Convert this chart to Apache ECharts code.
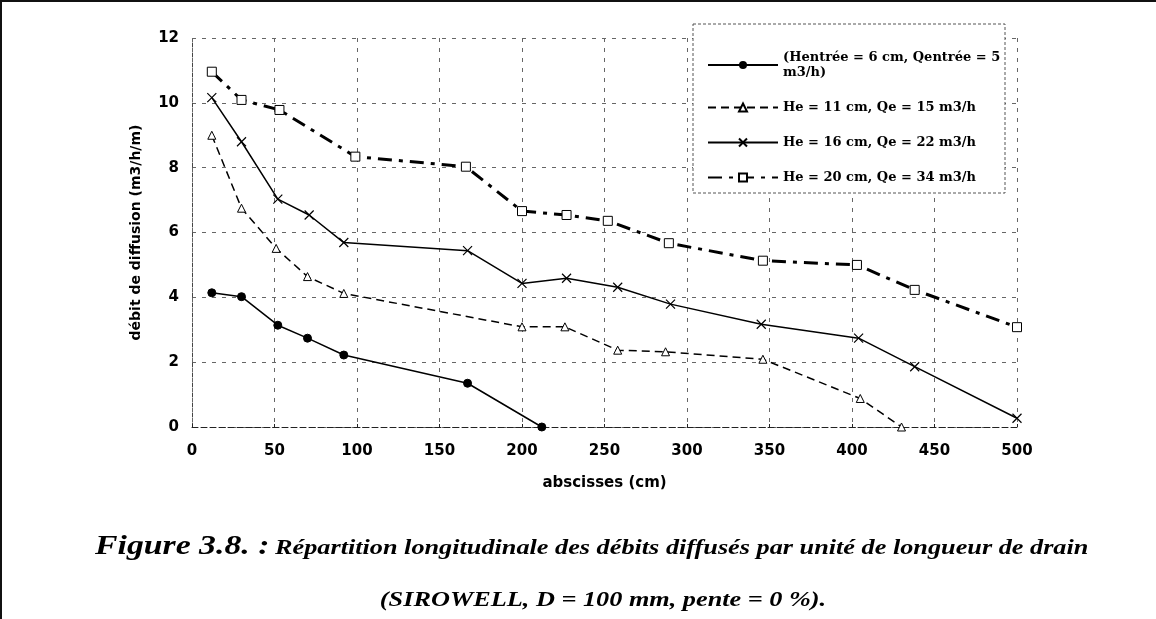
<!DOCTYPE html>
<html>
<head>
    <meta charset="utf-8">
    <title>Figure 3.8</title>
    <script src="https://cdn.jsdelivr.net/npm/echarts@6/dist/echarts.min.js"></script>
    <style>
        html, body { margin: 0; padding: 0; background: #fff; }
        #wrap { position: relative; width: 1156px; height: 619px; }
        #main { width: 1156px; height: 619px; }
        #frame { position: absolute; left: 0; top: 0; width: 1156px; height: 619px; box-sizing: border-box;
                 border-top: 2px solid #111; border-left: 2px solid #111; pointer-events: none; }
    </style>
</head>
<body>
<div id="wrap">
    <div id="main"></div>
    <div id="frame"></div>
</div>
<script type="text/javascript">
    // abscisses (cm) and débit de diffusion (m3/h/m) for each test
    var x6 = [12, 30, 52, 70, 92, 167, 212];
    var y6 = [4.14, 4.02, 3.14, 2.74, 2.22, 1.35, 0];

    var x11 = [12, 30, 51, 70, 92, 200, 226, 258, 287, 346, 405, 430];
    var y11 = [9.0, 6.75, 5.51, 4.64, 4.12, 3.09, 3.09, 2.37, 2.32, 2.09, 0.88, 0];

    var x16 = [12, 30, 52, 71, 92, 167, 200, 227, 258, 290, 345, 404, 438, 500];
    var y16 = [10.16, 8.8, 7.03, 6.54, 5.69, 5.44, 4.43, 4.59, 4.31, 3.79, 3.17, 2.74, 1.86, 0.27];

    var x20 = [12, 30, 53, 99, 166, 200, 227, 252, 289, 346, 403, 438, 500];
    var y20 = [10.96, 10.09, 9.78, 8.34, 8.03, 6.66, 6.54, 6.36, 5.67, 5.13, 5.0, 4.23, 3.08];

    var names = [
        '(Hentrée = 6 cm, Qentrée = 5 m3/h)',
        'He = 11 cm, Qe = 15 m3/h',
        'He = 16 cm, Qe = 22 m3/h',
        'He = 20 cm, Qe = 34 m3/h'
    ];

    var figLabel = 'Figure 3.8. :';
    var figText = 'Répartition longitudinale des débits diffusés par unité de longueur de drain';
    var figText2 = '(SIROWELL, D = 100 mm, pente = 0 %).';

    function pairs(xs, ys) {
        var out = [];
        for (var i = 0; i < xs.length; i++) {
            out.push([xs[i], ys[i]]);
        }
        return out;
    }

    // the scanned caption is stretched sideways, so the text is widened a little
    function caption(str, x, y, size, align) {
        return {
            type: 'text',
            x: x,
            y: y,
            scaleX: 1.25,
            style: {
                text: str,
                font: 'italic bold ' + size + 'px "Liberation Serif"',
                fill: '#000',
                textAlign: align, align: align,
                textVerticalAlign: 'middle', verticalAlign: 'middle'
            }
        };
    }

    var myChart = echarts.init(document.getElementById('main'));

    var gridLine = { show: true, lineStyle: { color: '#666', width: 1, type: [4, 6] } };
    var axisFont = { color: '#000', fontFamily: 'DejaVu Sans', fontWeight: 'bold', fontSize: 15 };

    option = {
        backgroundColor: '#fff',
        animation: false,
        grid: { left: 192, right: 139, top: 38, bottom: 192 },
        graphic: [
            {
                type: 'rect',
                z: 3,
                shape: { x: 693, y: 24, width: 312, height: 169 },
                style: { fill: '#fff', stroke: '#555', lineWidth: 1, lineDash: [3, 2] }
            },
            caption(figLabel, 95, 547, 27, 'left'),
            caption(figText, 275, 549, 21, 'left'),
            caption(figText2, 603, 601, 21, 'center')
        ],
        legend: {
            orient: 'vertical',
            left: 702,
            top: 45,
            itemWidth: 70,
            itemHeight: 10,
            itemGap: 20,
            z: 5,
            formatter: function (name) {
                if (name === names[0]) {
                    return '(Hentrée = 6 cm, Qentrée = 5\nm3/h)';
                }
                return name;
            },
            textStyle: { fontFamily: 'DejaVu Serif', fontWeight: 'bold', fontSize: 13, color: '#000', lineHeight: 15 },
            data: names
        },
        xAxis: {
            type: 'value',
            min: 0,
            max: 500,
            interval: 50,
            name: 'abscisses (cm)',
            nameLocation: 'middle',
            nameGap: 49,
            nameTextStyle: { color: '#000', fontFamily: 'DejaVu Sans', fontWeight: 'bold', fontSize: 15 },
            axisLine: { show: true, lineStyle: { color: '#222', width: 1, type: [6, 3] } },
            axisTick: { show: true, length: 3, inside: true, lineStyle: { color: '#222' } },
            axisLabel: Object.assign({ margin: 17 }, axisFont),
            splitLine: gridLine
        },
        yAxis: {
            type: 'value',
            min: 0,
            max: 12,
            interval: 2,
            name: 'débit de diffusion (m3/h/m)',
            nameLocation: 'middle',
            nameGap: 49,
            nameTextStyle: { color: '#000', fontFamily: 'DejaVu Sans', fontWeight: 'bold', fontSize: 14 },
            axisLine: { show: true, lineStyle: { color: '#444', width: 1, type: [4, 6] } },
            axisTick: { show: false },
            axisLabel: Object.assign({ margin: 13 }, axisFont),
            splitLine: gridLine
        },
        series: [
            {
                name: names[0],
                type: 'line',
                data: pairs(x6, y6),
                symbol: 'circle',
                symbolSize: 8,
                showAllSymbol: true,
                lineStyle: { color: '#000', width: 1.5, type: 'solid' },
                itemStyle: { color: '#000', borderColor: '#000' }
            },
            {
                name: names[1],
                type: 'line',
                data: pairs(x11, y11),
                symbol: 'triangle',
                symbolSize: 8,
                showAllSymbol: true,
                lineStyle: { color: '#000', width: 1.5, type: [8, 5] },
                itemStyle: { color: '#fff', borderColor: '#000', borderWidth: 1 }
            },
            {
                name: names[2],
                type: 'line',
                data: pairs(x16, y16),
                symbol: 'path://M0 0L10 10M10 0L0 10',
                symbolSize: 9,
                showAllSymbol: true,
                lineStyle: { color: '#000', width: 1.5, type: 'solid' },
                itemStyle: { color: 'transparent', borderColor: '#000', borderWidth: 1.2 }
            },
            {
                name: names[3],
                type: 'line',
                data: pairs(x20, y20),
                symbol: 'rect',
                symbolSize: 9,
                showAllSymbol: true,
                lineStyle: { color: '#000', width: 3, type: [14, 7, 4, 7] },
                itemStyle: { color: '#fff', borderColor: '#000', borderWidth: 1 }
            }
        ]
    };

    if (option && typeof option === "object") {
        myChart.setOption(option, true);
    }
</script>
</body>
</html>
